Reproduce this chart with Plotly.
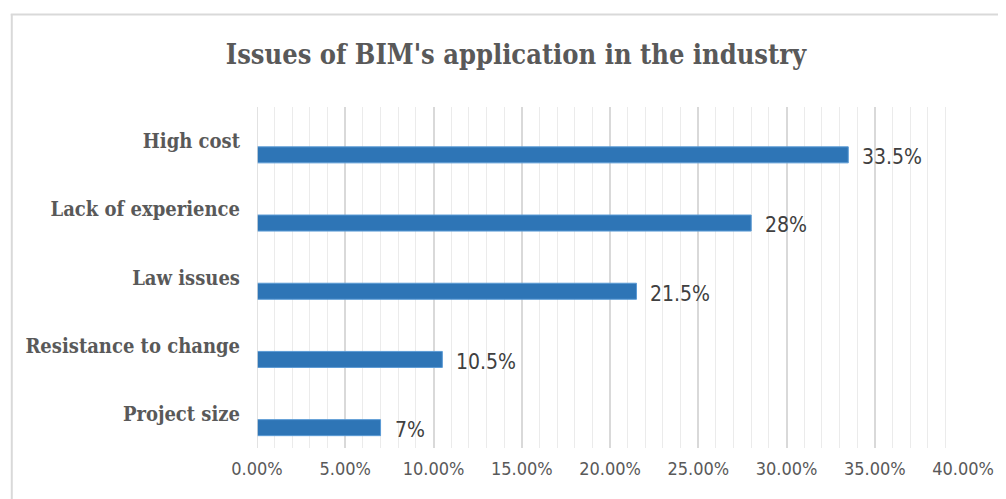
import plotly.graph_objects as go

categories = ["High cost", "Lack of experience", "Law issues", "Resistance to change", "Project size"]
values = [33.5, 28, 21.5, 10.5, 7]
value_labels = ["33.5%", "28%", "21.5%", "10.5%", "7%"]
tick_vals = [0, 5, 10, 15, 20, 25, 30, 35, 40]
tick_text = ["0.00%", "5.00%", "10.00%", "15.00%", "20.00%", "25.00%", "30.00%", "35.00%", "40.00%"]

# page has an 8px body margin, so the figure is drawn 8px smaller and offset
OFF = 8
W, H = 1006 - OFF, 499 - OFF
ml, mr, mt, mb = 257 - OFF, 43 - OFF, 107 - OFF, 51
pw, ph = W - ml - mr, H - mt - mb

slab = "DejaVu Serif Condensed, DejaVu Serif, serif"
narrow = "Liberation Sans Narrow, DejaVu Sans Condensed, Roboto, sans-serif"

fig = go.Figure()
fig.add_trace(go.Bar(
    y=categories, x=values, orientation="h",
    marker=dict(color="#2E75B6", line=dict(color="#5B9BD5", width=1)),
    width=0.235, offset=0.084,
    hoverinfo="skip",
))

annotations = []
for c, v, t in zip(categories, values, value_labels):
    annotations.append(dict(
        x=v, y=c, xref="x", yref="y", text=t, showarrow=False,
        xanchor="left", yanchor="middle", xshift=12, yshift=-16,
        font=dict(family=narrow, size=21, color="#404040"),
    ))

def px_to_paper_x(px):
    return (px - OFF - ml) / pw

def px_to_paper_y(py):
    return (H - mb - (py - OFF)) / ph

shapes = [
    dict(type="line", xref="paper", yref="paper",
         x0=px_to_paper_x(9), x1=px_to_paper_x(9), y0=px_to_paper_y(14), y1=px_to_paper_y(510),
         line=dict(color="#D9D9D9", width=2)),
    dict(type="line", xref="paper", yref="paper",
         x0=px_to_paper_x(8), x1=px_to_paper_x(1020), y0=px_to_paper_y(14.5), y1=px_to_paper_y(14.5),
         line=dict(color="#D9D9D9", width=2)),
]

fig.update_layout(
    width=W, height=H,
    margin=dict(l=ml, r=mr, t=mt, b=mb),
    paper_bgcolor="white", plot_bgcolor="white",
    showlegend=False,
    title=dict(text="<b>Issues of BIM's application in the industry</b>",
               x=(516 - OFF) / W, xanchor="center", y=1 - (55 - OFF) / H, yanchor="middle",
               font=dict(family=slab, size=27, color="#595959")),
    xaxis=dict(range=[0, 40], tickvals=tick_vals, ticktext=tick_text,
               showgrid=True, gridcolor="#D9D9D9", gridwidth=1.5,
               minor=dict(dtick=1, showgrid=True, gridcolor="#EBEBEB", gridwidth=1.2, ticks=""),
               zeroline=False, showline=False, ticks="",
               tickfont=dict(family=narrow, size=18, color="#595959"),
               ticklabelstandoff=8, fixedrange=True),
    yaxis=dict(autorange="reversed", showgrid=False, zeroline=False,
               showline=False, ticks="",
               tickfont=dict(family=slab, size=20, color="#595959", weight="bold"),
               ticklabelstandoff=16, fixedrange=True),
    annotations=annotations,
    shapes=shapes,
)
fig.add_vline(x=0, line=dict(color="#D9D9D9", width=1.5))

fig.write_html("out.html")
